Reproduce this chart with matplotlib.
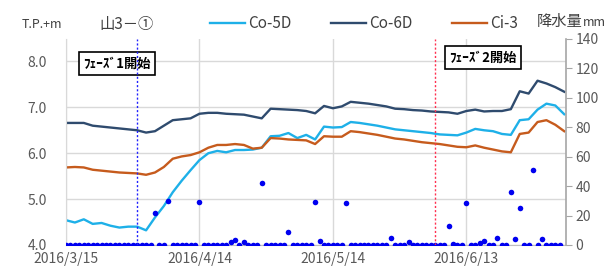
import numpy as np
import pandas as pd
import matplotlib
matplotlib.use("Agg")
import matplotlib.pyplot as plt
import matplotlib.dates as mdates
from matplotlib.lines import Line2D

plt.rcParams['font.family'] = ['Noto Sans CJK JP', 'DejaVu Sans']

# groundwater levels, every 2 days from 2016/3/15
co5d = [4.54, 4.49, 4.56, 4.46, 4.48, 4.42, 4.38, 4.40, 4.40, 4.32,
        4.60, 4.85, 5.15, 5.40, 5.63, 5.85, 6.00, 6.05, 6.02, 6.07,
        6.07, 6.08, 6.12, 6.37, 6.38, 6.44, 6.33, 6.40, 6.30, 6.58,
        6.56, 6.57, 6.68, 6.66, 6.63, 6.60, 6.56, 6.52, 6.50, 6.48,
        6.46, 6.44, 6.41, 6.40, 6.39, 6.45, 6.53, 6.50, 6.48, 6.42,
        6.40, 6.72, 6.74, 6.95, 7.08, 7.04, 6.85]
co6d = [6.66, 6.66, 6.66, 6.60, 6.58, 6.56, 6.54, 6.52, 6.50, 6.45,
        6.48, 6.60, 6.72, 6.74, 6.76, 6.86, 6.88, 6.88, 6.86, 6.85,
        6.84, 6.80, 6.76, 6.97, 6.96, 6.95, 6.94, 6.92, 6.87, 7.03,
        6.98, 7.02, 7.12, 7.10, 7.08, 7.05, 7.02, 6.97, 6.96, 6.94,
        6.93, 6.91, 6.90, 6.89, 6.86, 6.92, 6.95, 6.91, 6.92, 6.92,
        6.96, 7.35, 7.30, 7.58, 7.52, 7.44, 7.34]
ci3 = [5.69, 5.70, 5.69, 5.64, 5.62, 5.60, 5.58, 5.57, 5.56, 5.53,
       5.58, 5.70, 5.88, 5.93, 5.96, 6.02, 6.12, 6.18, 6.18, 6.20,
       6.18, 6.10, 6.12, 6.33, 6.32, 6.30, 6.29, 6.28, 6.20, 6.37,
       6.36, 6.36, 6.48, 6.46, 6.43, 6.40, 6.36, 6.32, 6.30, 6.27,
       6.24, 6.22, 6.20, 6.17, 6.14, 6.13, 6.17, 6.12, 6.08, 6.04,
       6.02, 6.42, 6.45, 6.68, 6.72, 6.62, 6.48]

# daily rainfall (mm), days with rain; other days 0
rain_days = [20, 23, 30, 37, 38, 40, 44, 50, 56, 57, 63, 73, 77,
             86, 87, 90, 93, 94, 97, 100, 101, 102, 105, 107]
rain_mm = [22, 29.5, 29, 2, 3.5, 2, 42, 9, 29, 3, 28.5, 5, 2,
           13, 1, 28.5, 1.5, 3, 5, 36, 4, 25, 51, 4]

start = pd.Timestamp('2016-03-15')
lvl_dates = pd.date_range(start, periods=len(co5d), freq='2D')
rain_dates = pd.date_range(start, periods=112, freq='D')
rain = np.zeros(112)
rain[rain_days] = rain_mm

phase1 = pd.Timestamp('2016-03-31')
phase2 = pd.Timestamp('2016-06-06')
xticks = ['2016-03-15', '2016-04-14', '2016-05-14', '2016-06-13']
xlabels = ['2016/3/15', '2016/4/14', '2016/5/14', '2016/6/13']

gray = '#595959'
fig = plt.figure(figsize=(6.05, 2.73), dpi=100)
ax = fig.add_axes([66/605, 1-245/273, 500/605, (245-38.5)/273])
ax2 = ax.twinx()

ax.plot(lvl_dates, co5d, color='#1eb0e8', lw=1.7)
ax.plot(lvl_dates, co6d, color='#2f4b6e', lw=1.7)
ax.plot(lvl_dates, ci3, color='#c65b1d', lw=1.7)

ax.set_ylim(4.0, 8.5)
ax.set_yticks([4.0, 5.0, 6.0, 7.0, 8.0])
ax.set_yticklabels(['%.1f' % v for v in [4.0, 5.0, 6.0, 7.0, 8.0]])
ax.set_xlim(start, start + pd.Timedelta(days=112.4))
ax.set_xticks(pd.to_datetime(xticks))
ax.set_xticklabels(xlabels)
ax.grid(True, color='#d9d9d9', lw=1.0)
ax.set_axisbelow(True)
ax.tick_params(axis='both', length=0, colors=gray, labelsize=10, pad=14)
ax.tick_params(axis='x', pad=5)
for s in ['top', 'right']:
    ax.spines[s].set_visible(False)
ax.spines['left'].set_color('#d9d9d9')
ax.spines['bottom'].set_color('#bfbfbf')

ax2.plot(rain_dates, rain, 'o', color='#0000f0', ms=4, mec='none', zorder=3)
ax2.axvline(phase1, color='#2020ff', lw=1.0, ls=(0, (1.5, 1.5)), zorder=4)
ax2.axvline(phase2, color='#ff3050', lw=1.0, ls=(0, (1.5, 1.5)), zorder=4)
ax2.set_ylim(0, 140)
ax2.set_yticks(range(0, 141, 20))
ax2.tick_params(axis='y', length=4, color='#a6a6a6', colors=gray, labelsize=10, pad=3)
for s in ['top', 'left', 'bottom']:
    ax2.spines[s].set_visible(False)
ax2.spines['right'].set_color('#a6a6a6')
ax2.spines['right'].set_linewidth(1.2)

box = dict(boxstyle='square,pad=0.35', fc='white', ec='black', lw=1.2)
ax.text(117/605, 1-63.5/273, 'ﾌｪｰｽﾞ1開始', transform=fig.transFigure,
        ha='center', va='center', fontsize=9.5, fontweight='bold', bbox=box, zorder=5)
ax.text(483/605, 1-57.5/273, 'ﾌｪｰｽﾞ2開始', transform=fig.transFigure,
        ha='center', va='center', fontsize=9.5, fontweight='bold', bbox=box, zorder=5)

handles = [Line2D([], [], color='#1eb0e8', lw=1.7),
           Line2D([], [], color='#2f4b6e', lw=1.7),
           Line2D([], [], color='#c65b1d', lw=1.7)]
fig.legend(handles, ['Co-5D', 'Co-6D', 'Ci-3'], ncol=3, loc='center',
           bbox_to_anchor=(364/605, 1-24/273), frameon=False, fontsize=11,
           handlelength=2.3, handletextpad=0.2, columnspacing=2.6,
           labelcolor='#404040')

fig.text(127/605, 1-24/273, '山3－①', ha='center', va='center', fontsize=11, color='#404040')
fig.text(22/605, 1-24/273, 'T.P.+m', ha='left', va='center', fontsize=9, color='#404040')
fig.text(537/605, 1-21/273, '降水量', ha='left', va='center', fontsize=11, color='#404040')
fig.text(583/605, 1-22/273, 'mm', ha='left', va='center', fontsize=9, color='#404040')

fig.savefig('out.png', dpi=100)
